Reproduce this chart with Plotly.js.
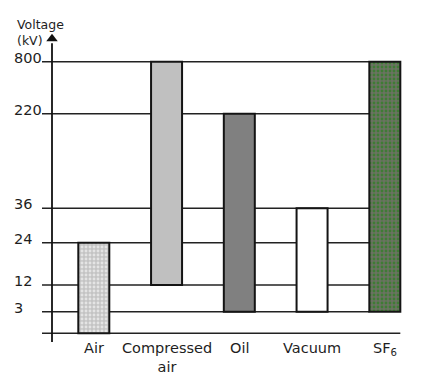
<!DOCTYPE html>
<html>
<head>
<meta charset="utf-8">
<script src="https://cdn.plot.ly/plotly-3.0.1.min.js"></script>
<style>html,body{margin:0;padding:0;background:#fff;}#chart{width:423px;height:376px;}</style>
</head>
<body>
<div id="chart"></div>
<script>
// ---- data ----
const categories = ['Air', 'Compressed<br>air', 'Oil', 'Vacuum', 'SF<sub>6</sub>'];
const lowKV  = [0, 12, 3, 3, 3];
const highKV = [24, 800, 220, 36, 800];
const levels = [3, 12, 24, 36, 220, 800];
const levelLabels = ['3', '12', '24', '36', '220', '800'];
// non-linear axis scale: position of each voltage level on the drawn axis
const scaleKV  = [0, 3, 12, 24, 36, 220, 800];
const scalePos = [0, 21.6, 48.3, 90.6, 125, 219.6, 271.6];

// ---- styling ----
const fills    = ['#c4c4c4', '#c0c0c0', '#808080', '#ffffff', '#6b7262'];
const dotShape = ['.', '', '', '', '.'];
const dotColor = ['#e4e4e4', null, null, null, '#3f7c35'];
const barW = 0.426;
const xr = [-0.7395, 4.346];
const axisX = -0.5746, tickX0 = -0.712;
const font = 'DejaVu Sans, sans-serif';
const txt = '#1e1e1e';

const pos = v => scalePos[scaleKV.indexOf(v)];
const xs = categories.map((c, i) => i);

const traces = categories.map((c, i) => {
  const marker = {color: fills[i], line: {color: '#141414', width: 2}};
  if (dotShape[i]) {
    marker.pattern = {shape: dotShape[i], fgcolor: dotColor[i], fgopacity: 1,
                      fillmode: 'overlay', size: 4, solidity: 0.4};
  }
  return {
    type: 'bar', x: [xs[i]], base: [pos(lowKV[i])],
    y: [pos(highKV[i]) - pos(lowKV[i])], width: barW,
    marker: marker, hoverinfo: 'skip'
  };
});
traces.push({
  type: 'scatter', mode: 'markers', x: [axisX], y: [294.5],
  marker: {symbol: 'triangle-up', size: 10, color: '#111'},
  cliponaxis: false, hoverinfo: 'skip'
});

const sfLeft = xs[xs.length - 1] - barW / 2;
const sfRight = xs[xs.length - 1] + barW / 2;
const shapes = levels.map(v => ({
  type: 'line', layer: 'below', xref: 'x', yref: 'y',
  x0: tickX0, x1: sfLeft, y0: pos(v), y1: pos(v),
  line: {color: '#222', width: 1.6}
}));
shapes.push({type: 'line', layer: 'below', xref: 'x', yref: 'y',
  x0: tickX0, x1: sfRight, y0: 0, y1: 0, line: {color: '#222', width: 1.6}});
shapes.push({type: 'line', layer: 'above', xref: 'x', yref: 'y',
  x0: axisX, x1: axisX, y0: -8.7, y1: 290, line: {color: '#111', width: 1.8}});

const annotations = [];
levels.forEach((v, i) => annotations.push({
  xref: 'paper', yref: 'y', x: -0.0757, y: pos(v), xanchor: 'left', yanchor: 'middle',
  yshift: 4, text: levelLabels[i], showarrow: false,
  font: {family: font, size: 14.5, color: txt}
}));
categories.forEach((c, i) => annotations.push({
  xref: 'x', yref: 'paper', x: xs[i], y: 0, xanchor: 'center', yanchor: 'top',
  yshift: 4, text: c, showarrow: false,
  font: {family: font, size: 14.5, color: txt}
}));
annotations.push({
  xref: 'paper', yref: 'paper', x: -0.0676, y: 1.058, xanchor: 'left', yanchor: 'top',
  text: 'Voltage<br>(kV)', align: 'left', showarrow: false,
  font: {family: font, size: 12.5, color: txt}
});

const layout = {
  width: 423, height: 376,
  margin: {l: 40, r: 13, t: 33, b: 34},
  paper_bgcolor: '#fff', plot_bgcolor: '#fff',
  showlegend: false, barmode: 'overlay',
  xaxis: {range: xr, showgrid: false, zeroline: false, showticklabels: false, ticks: '', showline: false, fixedrange: true},
  yaxis: {range: [-8.7, 300.3], showgrid: false, zeroline: false, showticklabels: false, ticks: '', showline: false, fixedrange: true},
  shapes: shapes,
  annotations: annotations
};

Plotly.newPlot('chart', traces, layout, {displayModeBar: false, staticPlot: true});
</script>
</body>
</html>
